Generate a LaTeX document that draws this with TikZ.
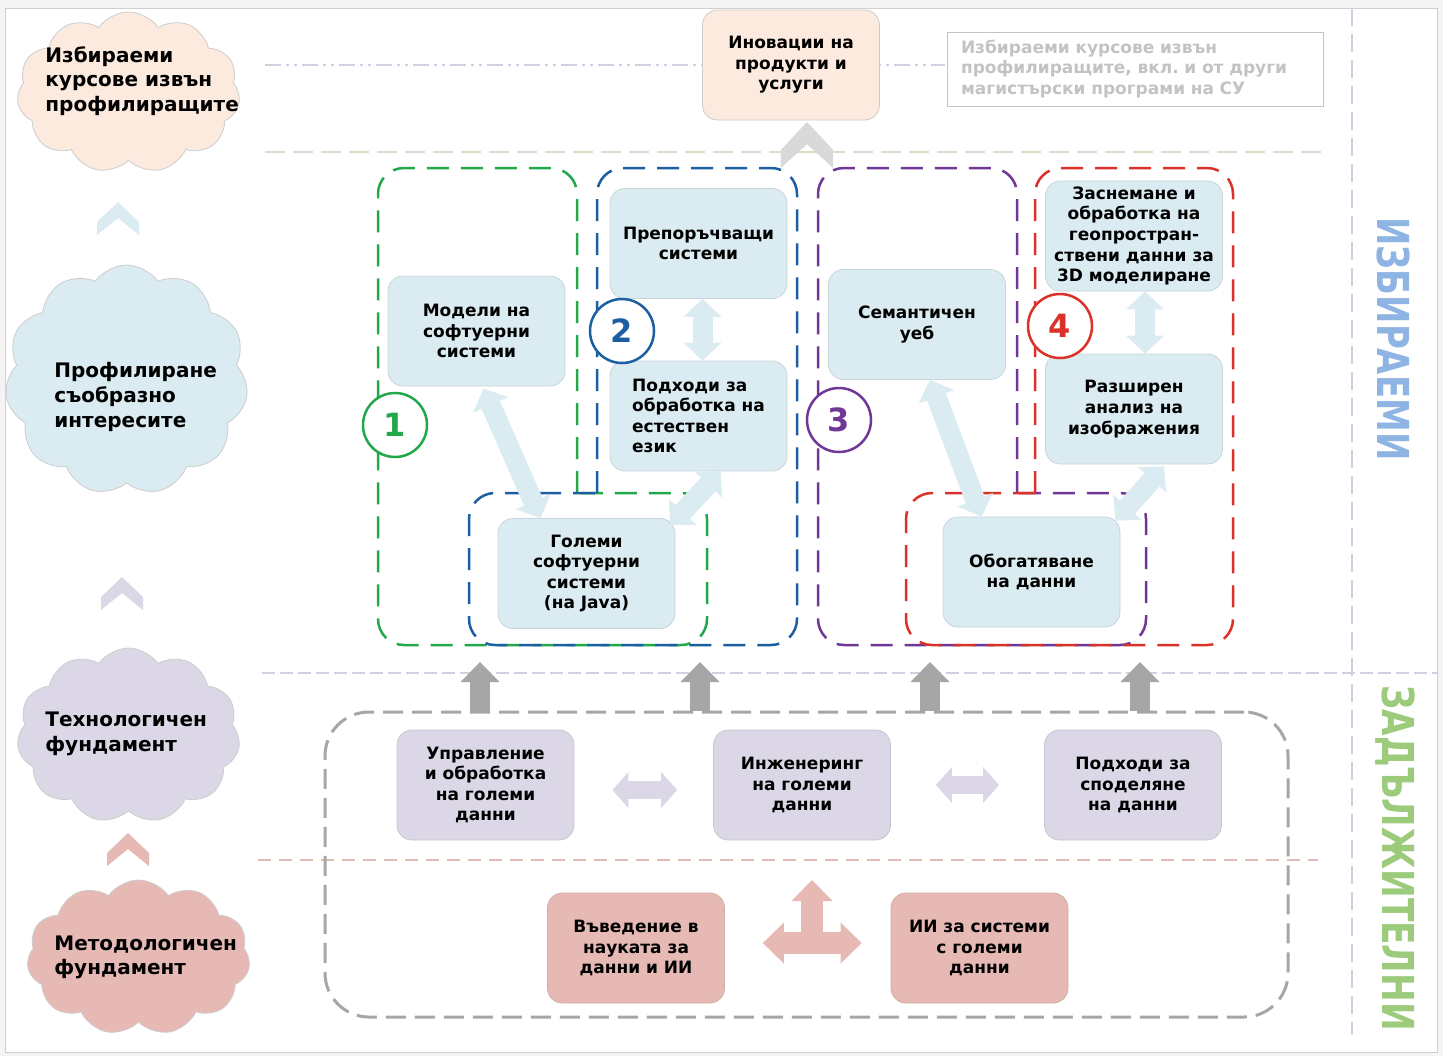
\documentclass[tikz,border=0pt]{standalone}
\usepackage{fontspec}
\setmainfont{DejaVu Sans}
\usetikzlibrary{arrows.meta, calc, shapes.symbols}

\definecolor{pagegray}{HTML}{F4F4F4}
\definecolor{framegray}{HTML}{CFCFCF}
\definecolor{cloudline}{HTML}{CDCDCD}
\definecolor{peach}{HTML}{FBEADD}
\definecolor{skyfill}{HTML}{DAEBF1}
\definecolor{lavfill}{HTML}{DCD7E6}
\definecolor{rosefill}{HTML}{E6B9B5}
\definecolor{lavline}{HTML}{D3CFE1}
\definecolor{oliveline}{HTML}{DCDCCB}
\definecolor{roseline}{HTML}{E2BAB7}
\definecolor{pathgreen}{HTML}{22A84B}
\definecolor{pathblue}{HTML}{1C5FA0}
\definecolor{pathpurple}{HTML}{703896}
\definecolor{pathred}{HTML}{DA3229}
\definecolor{coregray}{HTML}{A6A6A6}
\definecolor{notegray}{HTML}{C3C3C3}
\definecolor{chevgray}{HTML}{D9D9D9}
\definecolor{sideblue}{HTML}{8DB4E2}
\definecolor{sidegreen}{HTML}{9BCB7B}

\begin{document}
\begin{tikzpicture}[x=.5pt, y=-.5pt]
  \tikzset{
   box/.style={draw=#1!80!gray, fill=#1, rounded corners=7.5pt, minimum width=88.5pt,
    minimum height=55pt, inner sep=1pt, align=center, font=\fontsize{8.5}{10.3}\selectfont\bfseries},
   puff/.style={cloud, cloud puffs=11, cloud puff arc=110, cloud ignores aspect,
    draw=cloudline, fill=#1, inner sep=0pt},
   puffword/.style={anchor=west, align=left, inner sep=0pt, font=\fontsize{10}{12.3}\selectfont\bfseries},
   track/.style={draw=#1, line width=1.25pt, dash pattern=on 11pt off 6pt, rounded corners=13pt},
   num/.style={circle, draw=#1, text=#1, fill=white, line width=1.25pt, minimum size=32pt,
    inner sep=0pt, font=\fontsize{16}{16}\selectfont\bfseries},
   link/.style={draw=skyfill, line width=10pt, >={Triangle[width=19pt, length=9pt, line width=0pt]}, <->},
   bond/.style={draw=lavfill, line width=9pt, >={Triangle[width=18pt, length=8pt, line width=0pt]}, <->},
   fork/.style={draw=rosefill, line width=11pt, >={Triangle[width=20.5pt, length=10.5pt, line width=0pt]}},
   lift/.style={draw=coregray, line width=10pt, >={Triangle[width=19.5pt, length=10pt, line width=0pt]}, ->},
   side/.style={rotate=-90, text=#1, inner sep=0pt, font=\fontsize{22}{22}\selectfont\bfseries},
   chevron/.pic={\path[pic actions] (-21,20) -- (0,0) -- (21,20) -- (21,33) -- (0,16) -- (-21,33) -- cycle;},
  }

  \fill[pagegray] (0,0) rectangle (1443,1056);
  \draw[framegray, fill=white] (5,8) rectangle (1437,1052);

  \draw[lavline, line width=1pt, dash pattern=on 8pt off 2.5pt on 1.5pt off 2.5pt on 1.5pt off 2.5pt] (265,65) -- (945,65);
  \draw[oliveline, line width=1pt, dash pattern=on 10pt off 4pt] (265,152) -- (1323,152);
  \draw[lavline, line width=1pt, dash pattern=on 6.5pt off 2.5pt] (262,673) -- (1437,673);
  \draw[roseline, line width=1pt, dash pattern=on 6.5pt off 4pt] (258,860) -- (1318,860);
  \draw[lavline, line width=1pt, dash pattern=on 9pt off 4pt] (1352,8) -- (1352,1035);

  \node[puff=peach, minimum width=111.5pt, minimum height=80.5pt] (choice) at (128.5,92.5) {};
  \node[puffword] (choicetext) at (45,81) {Избираеми\\курсове извън\\профилиращите};
  \node[puff=skyfill, minimum width=121.5pt, minimum height=115pt] (profile) at (126.5,380) {};
  \node[puffword] (profiletext) at (54,397) {Профилиране\\съобразно\\интересите};
  \node[puff=lavfill, minimum width=111.5pt, minimum height=87.5pt] (tech) at (128.5,735.5) {};
  \node[puffword] (techtext) at (45,734) {Технологичен\\фундамент};
  \node[puff=rosefill, minimum width=111.5pt, minimum height=77.5pt] (method) at (138.5,957.5) {};
  \node[puffword] (methodtext) at (54,957.5) {Методологичен\\фундамент};

  \pic[fill=skyfill] at (118,202) {chevron};
  \pic[fill=lavfill] at (122,577) {chevron};
  \pic[fill=rosefill] at (128,833) {chevron};
  \pic[fill=chevgray, xscale=1.24, yscale=1.39] at (807,122) {chevron};

  \node[box=peach, draw=cloudline] (innov) at (791,65) {Иновации на\\продукти и\\услуги};
  \node[draw=notegray, text=notegray, align=left, text width=174pt, inner xsep=7pt,
   minimum height=37pt, font=\fontsize{8.5}{10.3}\selectfont\bfseries] (note) at (1135,69)
   {Избираеми курсове извън\\профилиращите, вкл.\ и от други\\магистърски програми на СУ};

  \foreach \col/\a/\b/\c in {pathgreen/577/378/707, pathblue/597/797/469, pathpurple/1017/818/1146, pathred/1035/1233/906}
   \draw[track=\col] (\a,493) -- (\a,168) -- (\b,168) -- (\b,645) -- (\c,645) -- (\c,493) -- (\a,493);

  \node[box=skyfill] (models) at (476.5,331) {Модели на\\софтуерни\\системи};
  \node[box=skyfill] (recsys) at (698.5,243.5) {Препоръчващи\\системи};
  \node[box=skyfill, align=left] (nlp) at (698.5,416) {Подходи за\\обработка на\\естествен\\език};
  \node[box=skyfill] (java) at (586.5,573.5) {Големи\\софтуерни\\системи\\(на Java)};
  \node[box=skyfill] (semweb) at (917,324.5) {Семантичен\\уеб};
  \node[box=skyfill] (geo) at (1134,236) {Заснемане и\\обработка на\\геопростран-\\ствени данни за\\3D моделиране};
  \node[box=skyfill] (vision) at (1134,409) {Разширен\\анализ на\\изображения};
  \node[box=skyfill] (enrich) at (1031.5,572) {Обогатяване\\на данни};

  \draw[link] ([xshift=2pt]recsys.south) -- ([xshift=2pt]nlp.north);
  \draw[link] ($(models.south)+(7,2)$) -- ($(java.north)+(-46,0)$);
  \draw[link] ($(nlp.south)+(22,0)$) -- ($(java.north east)+(-5,7)$);
  \draw[link] ($(semweb.south)+(13,0)$) -- ($(enrich.north)+(-50,0)$);
  \draw[link] ([xshift=5.5pt]geo.south) -- ([xshift=5.5pt]vision.north);
  \draw[link] ($(vision.south)+(30,2)$) -- ($(enrich.north east)+(-5,4)$);

  \foreach \n/\col/\x/\y in {1/pathgreen/395/425, 2/pathblue/622/331, 3/pathpurple/839/420, 4/pathred/1060/326}
   \node[num=\col] (track\n) at (\x,\y) {\n};

  \node[draw=coregray, line width=1.5pt, dash pattern=on 10pt off 4.5pt, rounded corners=22pt,
   minimum width=481.5pt, minimum height=152.5pt, inner sep=0pt] (core) at (806.5,864.5) {};

  \foreach \x [count=\i] in {480, 700, 930, 1140} {
   \coordinate (lift\i) at (\x,662);
   \draw[lift] (core.north -| lift\i) -- (lift\i);
  }

  \node[box=lavfill] (manage) at (485.5,785) {Управление\\и обработка\\на големи\\данни};
  \node[box=lavfill] (engineer) at (802,785) {Инженеринг\\на големи\\данни};
  \node[box=lavfill] (sharing) at (1133,785) {Подходи за\\споделяне\\на данни};

  \draw[bond] ($(manage.east)+(38,5)$) -- ($(engineer.west)+(-36,5)$);
  \draw[bond] ($(engineer.east)+(45,0)$) -- ($(sharing.west)+(-45,0)$);

  \node[box=rosefill] (intro) at (636,948) {Въведение в\\науката за\\данни и ИИ};
  \node[box=rosefill] (aisys) at (979.5,948) {ИИ за системи\\с големи\\данни};

  \coordinate (tee) at (812,943);
  \coordinate (teetop) at (812,880);
  \draw[fork, <->] ($(intro.east)+(38,-5)$) -- ($(aisys.west)+(-29,-5)$);
  \draw[fork, ->] (tee) -- (teetop);

  \node[side=sideblue] (optional) at (1393,339) {\scalebox{.77}[1]{ИЗБИРАЕМИ}};
  \node[side=sidegreen] (mandatory) at (1395,858) {\scalebox{.78}[1]{ЗАДЪЛЖИТЕЛНИ}};
\end{tikzpicture}
\end{document}
